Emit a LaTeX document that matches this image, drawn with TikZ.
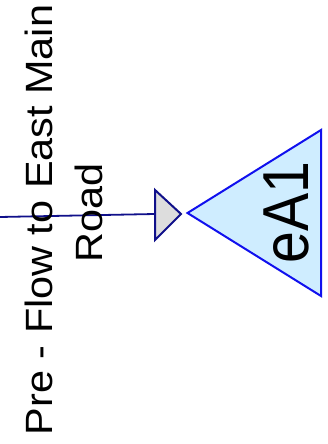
\documentclass[tikz,border=0pt]{standalone}
\usepackage{fontspec}
\setmainfont{Liberation Sans}
\definecolor{navyline}{HTML}{10108A}
\definecolor{bluestroke}{HTML}{1010EE}
\definecolor{bluefill}{HTML}{CFEDFF}
\definecolor{grayfill}{HTML}{DDDDDD}
\tikzset{
  flowline/.style={draw=navyline, line width=1.8pt},
  portbox/.style={draw=navyline, fill=grayfill, line width=2pt, line join=miter},
  nodetri/.style={draw=bluestroke, fill=bluefill, line width=2pt, line join=miter},
  bigtext/.style={rotate=90, inner sep=0pt, font=\fontsize{65}{65}\selectfont},
  labeltext/.style={rotate=90, inner sep=0pt, align=center, font=\fontsize{38}{50}\selectfont}
}
\begin{document}
\begin{tikzpicture}[x=1pt,y=1pt]
\useasboundingbox (0,0) rectangle (328,444);
% coordinates (y = 444 - pixel row)
\coordinate (src) at (0,227);
\coordinate (portL) at (155,230);
\coordinate (portT) at (155,254);
\coordinate (portB) at (155,204);
\coordinate (portTip) at (181,230);
\coordinate (triTip) at (187.5,231);
\coordinate (triT) at (321,314);
\coordinate (triB) at (321,148);
% connector
\draw[flowline] (src) -- (portL);
% port triangle
\draw[portbox] (portT) -- (portTip) -- (portB) -- cycle;
% node triangle
\draw[nodetri] (triTip) -- (triT) -- (triB) -- cycle;
\node[bigtext] (ea) at (286.8,231.5) {\scalebox{0.88}[1]{eA1}};
\node[labeltext] (lbl) at (64.2,231) {\scalebox{1.09}[1]{Pre - Flow to East Main}\hspace*{14pt}\\\scalebox{1.09}[1]{Road}};
\end{tikzpicture}
\end{document}
